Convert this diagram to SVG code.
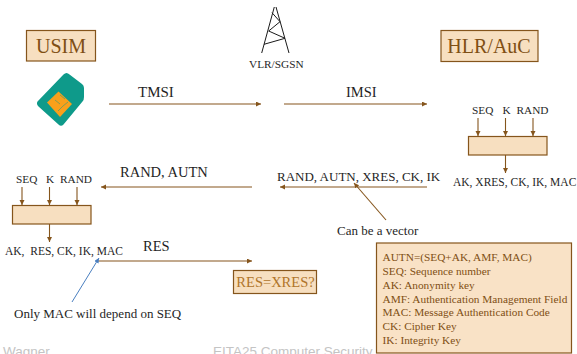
<svg xmlns="http://www.w3.org/2000/svg" width="577" height="354" viewBox="0 0 577 354">
<style>
text{font-family:"Liberation Serif","Times New Roman",serif;fill:#1f1f1f}
.box{fill:#f7dfc0;stroke:#85551c;stroke-width:1.2}
.t{fill:#7f4f14}
.c{stroke:#85551c;stroke-width:1.1;fill:none}
.a{fill:#85551c}
.f{font-family:"Liberation Sans",Arial,sans-serif;fill:#c4c4c4;font-size:13.500px}
</style>
<defs>
<marker id="ah" markerUnits="userSpaceOnUse" markerWidth="6" markerHeight="6" refX="5" refY="2.500" orient="auto"><path d="M0 0L5 2.500L0 5z" class="a"/></marker>
<marker id="ab" markerUnits="userSpaceOnUse" markerWidth="6" markerHeight="6" refX="5" refY="2.500" orient="auto"><path d="M0 0L5 2.500L0 5z" fill="#4a7fc0"/></marker>
</defs>
<g id="usim"><rect class="box" x="26.500" y="30.500" width="69" height="30.500"/><text class="t" x="61" y="53" font-size="20" text-anchor="middle">USIM</text></g>
<g id="sim-card">
<path d="M37.500 101.500Q36 104 38.500 106.500L58.500 124.500Q61 127 63.500 124.500L82.500 101.500Q84 100 84 97V88Q84 85.500 82 84L69.500 74.500Q66.500 71.500 63.500 74.500Z" fill="#0e9a8a"/>
<path d="M47 102.500L58.500 91.500L72 104L60 117Z" fill="#f9a01b"/>
<path d="M55 100l5 4M60 95l5 4M58 111l5-5M63 106l5-4" stroke="#0e9a8a" stroke-width="1" fill="none" opacity=".5"/>
</g>
<g id="vlr-sgsn">
<path d="M261.700 53L274.300 7M289 53L276 7M272 12.700L280 21.700L268.700 31L285 38.300L264 44.300" stroke="#1a1a1a" stroke-width="1" fill="none"/>
<text x="249" y="68" font-size="11.300">VLR/SGSN</text>
</g>
<g id="hlr-auc"><rect class="box" x="441" y="30.500" width="97" height="31"/><text class="t" x="489" y="53" font-size="20" text-anchor="middle">HLR/AuC</text></g>
<g id="hlr-function">
<text x="472" y="114" font-size="11.300">SEQ</text><text x="502.500" y="114" font-size="11.300">K</text><text x="516.500" y="114" font-size="11.300">RAND</text>
<rect class="box" x="468.500" y="136.500" width="78.500" height="18.500"/>
<text x="453" y="186" font-size="11.500">AK, XRES, CK, IK, MAC</text>
</g>
<g id="usim-function">
<text x="16" y="183" font-size="11.300">SEQ</text><text x="46" y="183" font-size="11.300">K</text><text x="60" y="183" font-size="11.300">RAND</text>
<rect class="box" x="12.500" y="205.500" width="78.500" height="18.500"/>
<text x="5" y="255" font-size="11.500" xml:space="preserve">AK,  RES, CK, IK, MAC</text>
</g>
<g id="res-check"><rect class="box" x="233.500" y="270.500" width="83" height="23"/><text x="275.500" y="287" font-size="14.500" text-anchor="middle" style="fill:#b0752a">RES=XRES?</text></g>
<g id="legend">
<rect class="box" x="376.500" y="243" width="195" height="110" style="fill:#f9e2c6"/>
<g font-size="11.300">
<text class="t" x="382.500" y="261">AUTN=(SEQ+AK, AMF, MAC)</text>
<text class="t" x="382.500" y="275">SEQ: Sequence number</text>
<text class="t" x="382.500" y="288.500">AK: Anonymity key</text>
<text class="t" x="382.500" y="303">AMF: Authentication Management Field</text>
<text class="t" x="382.500" y="316">MAC: Message Authentication Code</text>
<text class="t" x="382.500" y="330">CK: Cipher Key</text>
<text class="t" x="382.500" y="344">IK: Integrity Key</text>
</g>
</g>
<g id="connectors">
<path class="c" marker-end="url(#ah)" d="M109 104H261"/>
<path class="c" marker-end="url(#ah)" d="M284 104H427"/>
<path class="c" marker-end="url(#ah)" d="M478 118V136"/>
<path class="c" marker-end="url(#ah)" d="M505.500 118V136"/>
<path class="c" marker-end="url(#ah)" d="M533 118V136"/>
<path class="c" marker-end="url(#ah)" d="M505.500 155V173"/>
<path class="c" marker-end="url(#ah)" d="M427 187H280"/>
<path class="c" marker-end="url(#ah)" d="M252 187H101"/>
<path class="c" marker-end="url(#ah)" d="M22 187V205"/>
<path class="c" marker-end="url(#ah)" d="M49.500 187V205"/>
<path class="c" marker-end="url(#ah)" d="M77 187V205"/>
<path class="c" marker-end="url(#ah)" d="M49.500 224V242"/>
<path class="c" marker-end="url(#ah)" d="M97 261H252"/>
<path class="c" marker-end="url(#ah)" d="M386 220L354 183"/>
<path stroke="#4a7fc0" stroke-width="1" fill="none" marker-end="url(#ab)" d="M72 302L99 258"/>
</g>
<g id="labels">
<text x="138" y="97" font-size="15">TMSI</text>
<text x="346" y="97" font-size="14.500">IMSI</text>
<text x="120" y="177" font-size="14.500">RAND, AUTN</text>
<text x="277" y="181" font-size="13">RAND, AUTN, XRES, CK, IK</text>
<text x="143" y="251" font-size="14.500">RES</text>
<text x="337" y="235" font-size="13">Can be a vector</text>
<text x="14" y="318" font-size="13">Only MAC will depend on SEQ</text>
</g>
<g id="footer"><text class="f" x="3" y="356">Wagner</text><text class="f" x="213" y="356">EITA25 Computer Security</text></g>
</svg>
